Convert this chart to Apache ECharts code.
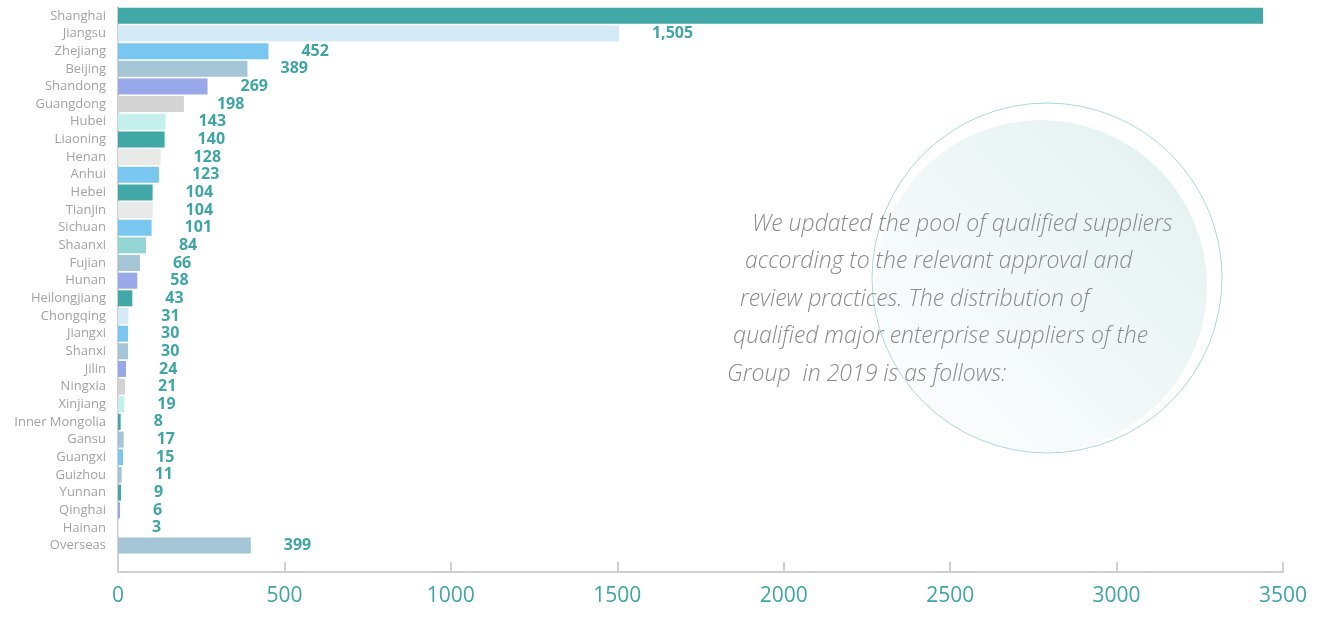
<!DOCTYPE html>
<html>
<head>
<meta charset="utf-8">
<title>Qualified suppliers by region</title>
<script src="https://cdn.jsdelivr.net/npm/echarts@6/dist/echarts.min.js"></script>
<style>
    html, body { margin: 0; padding: 0; background: #fff; }
    #chart { width: 1324px; height: 619px; }
</style>
</head>
<body>
<div id="chart"></div>
<script>
// regions, top to bottom
var regions = ['Shanghai', 'Jiangsu', 'Zhejiang', 'Beijing', 'Shandong', 'Guangdong', 'Hubei', 'Liaoning',
    'Henan', 'Anhui', 'Hebei', 'Tianjin', 'Sichuan', 'Shaanxi', 'Fujian', 'Hunan', 'Heilongjiang',
    'Chongqing', 'Jiangxi', 'Shanxi', 'Jilin', 'Ningxia', 'Xinjiang', 'Inner Mongolia', 'Gansu',
    'Guangxi', 'Guizhou', 'Yunnan', 'Qinghai', 'Hainan', 'Overseas'];
// supplier counts (Shanghai, its label is not shown)
var suppliers = [3440, 1505, 452, 389, 269, 198, 143, 140, 128, 123, 104, 104, 101, 84, 66, 58, 43,
    31, 30, 30, 24, 21, 19, 8, 17, 15, 11, 9, 6, 3, 399];
var xTicks = [0, 500, 1000, 1500, 2000, 2500, 3000, 3500];
var note = [
    'We updated the pool of qualified suppliers',
    'according to the relevant approval and',
    'review practices. The distribution of',
    'qualified major enterprise suppliers of the',
    'Group  in 2019 is as follows:'
];

var teal = '#41a7a7', lightBlue = '#d4ebf7', sky = '#79c7f0', greyBlue = '#a3c5d6',
    lilac = '#98a8e8', grey = '#d3d3d3', mint = '#c4efed', pale = '#e8eaea', aqua = '#93d4d4';
var barColors = [teal, lightBlue, sky, greyBlue, lilac, grey, mint, teal, pale, sky, teal, pale, sky,
    aqua, greyBlue, lilac, teal, lightBlue, sky, greyBlue, lilac, grey, mint, teal, greyBlue, sky,
    greyBlue, teal, lilac, pale, greyBlue];

var chart = echarts.init(document.getElementById('chart'));

var barData = suppliers.map(function (v, i) {
    var item = { value: v, itemStyle: { color: barColors[i] } };
    if (i === 0) item.label = { show: false };
    return item;
});

var noteX = [752, 745, 740, 733, 727];
var noteText = note.map(function (t, i) {
    return {
        type: 'text',
        x: noteX[i],
        y: 224 + i * 37.5,
        z: 10,
        style: {
            text: t,
            font: 'italic 300 23px "Open Sans", sans-serif',
            fill: '#8a8a8a',
            verticalAlign: 'middle'
        }
    };
});

var option = {
    animation: false,
    grid: { left: 118, right: 41, top: 7, bottom: 47, containLabel: false },
    graphic: [
        {
            type: 'circle',
            shape: { cx: 1041, cy: 286, r: 166 },
            z: 0,
            style: {
                fill: new echarts.graphic.LinearGradient(1, 0, 0, 1, [
                    { offset: 0, color: '#e2f0f0' },
                    { offset: 1, color: '#ffffff' }
                ])
            }
        },
        {
            type: 'circle',
            shape: { cx: 1047, cy: 278, r: 175 },
            z: 0,
            style: { fill: 'none', stroke: '#a9d9d9', lineWidth: 1 }
        }
    ].concat(noteText),
    xAxis: {
        type: 'value',
        min: xTicks[0],
        max: xTicks[xTicks.length - 1],
        interval: 500,
        axisLine: { show: true, lineStyle: { color: '#cfcfcf', width: 2 } },
        axisTick: { show: true, inside: true, length: 10, lineStyle: { color: '#cfcfcf', width: 2 } },
        splitLine: { show: false },
        axisLabel: {
            color: '#3fa5a5',
            fontSize: 21,
            fontFamily: '"Open Sans", sans-serif',
            margin: 14,
            formatter: function (v) { return String(v); }
        }
    },
    yAxis: {
        type: 'category',
        inverse: true,
        data: regions.concat(['']),
        axisLine: { show: true, lineStyle: { color: '#cfcfcf', width: 2 } },
        axisTick: { show: false },
        axisLabel: {
            interval: 0,
            color: '#a3a3a3',
            fontSize: 13,
            fontFamily: '"Open Sans", sans-serif',
            margin: 12
        }
    },
    series: [{
        type: 'bar',
        data: barData,
        barWidth: 16,
        z: 2,
        label: {
            show: true,
            position: 'right',
            distance: 33,
            color: '#3fa5a5',
            fontSize: 16,
            fontWeight: 'bold',
            fontFamily: '"Open Sans", sans-serif',
            formatter: function (p) { return p.value.toLocaleString('en-US'); }
        }
    }]
};

chart.setOption(option);
</script>
</body>
</html>
